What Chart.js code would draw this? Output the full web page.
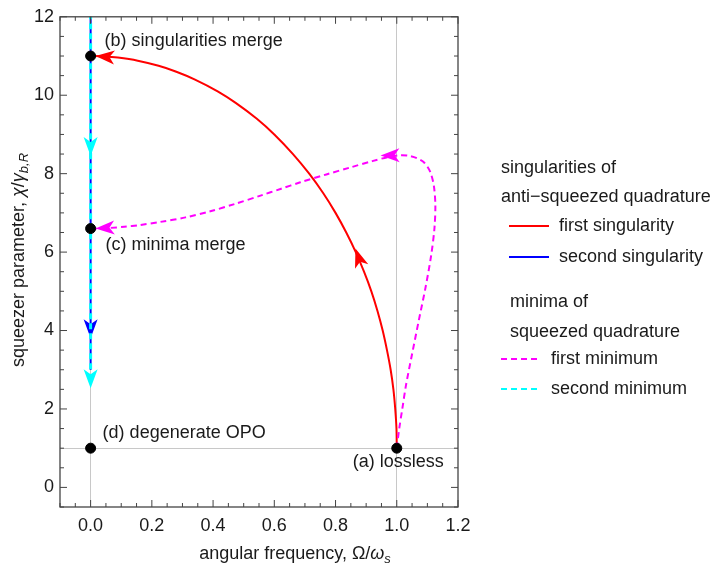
<!DOCTYPE html>
<html>
<head>
<meta charset="utf-8">
<title>Singularities and minima vs squeezer parameter</title>
<script src="https://cdn.jsdelivr.net/npm/chart.js@4.4.0/dist/chart.umd.min.js"></script>
<style>
  html, body { margin: 0; padding: 0; background: #fff; }
</style>
</head>
<body>
<canvas id="chart" width="720" height="564"></canvas>
<script>
// ==============================
// Data (x = Omega/omega_s, y = chi/gamma_b,R)
// ==============================
const redX = [1.000, 0.999, 0.995, 0.989, 0.980, 0.968, 0.954, 0.937, 0.917, 0.893, 0.866, 0.835, 0.800, 0.760, 0.714, 0.661, 0.600, 0.543, 0.475, 0.415, 0.341, 0.280, 0.222, 0.154, 0.089, 0.045, 0.000];
const redY = [1.0, 1.5, 2.0, 2.5, 3.0, 3.5, 4.0, 4.5, 5.0, 5.5, 6.0, 6.5, 7.0, 7.5, 8.0, 8.5, 9.0, 9.4, 9.8, 10.1, 10.4, 10.6, 10.75, 10.88, 10.96, 10.99, 11.0];

const blueX = [0, 0];
const blueY = [12.6, 3.0];

const magentaX = [1.000, 1.008, 1.018, 1.030, 1.050, 1.072, 1.094, 1.112, 1.123, 1.126, 1.121, 1.109, 1.090, 1.067, 1.040, 1.012, 0.975, 0.920, 0.849, 0.770, 0.685, 0.620, 0.555, 0.470, 0.391, 0.310, 0.228, 0.160, 0.110, 0.060, 0.000];
const magentaY = [1.0, 1.5, 2.0, 2.6, 3.4, 4.26, 5.1, 5.9, 6.6, 7.2, 7.7, 8.05, 8.28, 8.39, 8.455, 8.47, 8.43, 8.32, 8.16, 7.98, 7.78, 7.61, 7.44, 7.225, 7.04, 6.885, 6.77, 6.69, 6.645, 6.615, 6.60];

const cyanX = [0, 0];
const cyanY = [12.6, 3.0];

// special points (a) lossless, (b) singularities merge, (c) minima merge, (d) degenerate OPO
const pointX = [1, 0, 0, 0];
const pointY = [1, 11, 6.6, 1];
const pointLabels = ["(a) lossless", "(b) singularities merge", "(c) minima merge", "(d) degenerate OPO"];

// arrow heads: [tipX, tipY, tailX, tailY] in data units
const redArrows = [[0.865, 6.09, 0.90, 5.30], [0.016, 11.0, 0.10, 10.95]];
const blueArrows = [[0, 3.8, 0, 4.8]];
const magentaArrows = [[0.947, 8.46, 1.00, 8.47], [0.016, 6.60, 0.10, 6.64]];
const cyanArrows = [[0, 8.45, 0, 9.5], [0, 2.53, 0, 3.5]];

// ==============================
// Helpers
// ==============================
const FONT = '"Liberation Sans", Arial, Helvetica, sans-serif';
const TEXT_COLOR = "#1a1a1a";

function toPoints(xs, ys) {
  return xs.map((x, i) => ({ x: x, y: ys[i] }));
}

function isMultiple(v, step) {
  const r = v / step;
  return Math.abs(r - Math.round(r)) < 1e-6;
}

// draw text made of pieces with different fonts (for italic greek / subscripts)
function drawRich(ctx, pieces, x, y, align) {
  let total = 0;
  pieces.forEach((p) => {
    ctx.font = p.font;
    total += ctx.measureText(p.text).width;
  });
  let cx = align === "center" ? x - total / 2 : x;
  ctx.textAlign = "left";
  ctx.textBaseline = "alphabetic";
  pieces.forEach((p) => {
    ctx.font = p.font;
    ctx.fillText(p.text, cx, y + (p.dy || 0));
    cx += ctx.measureText(p.text).width;
  });
}

function drawArrow(chart, arrow, color) {
  const ctx = chart.ctx;
  const xs = chart.scales.x, ys = chart.scales.y;
  const tx = xs.getPixelForValue(arrow[0]), ty = ys.getPixelForValue(arrow[1]);
  const bx = xs.getPixelForValue(arrow[2]), by = ys.getPixelForValue(arrow[3]);
  const ang = Math.atan2(ty - by, tx - bx);
  const len = 19, half = 7, notch = 5;
  ctx.save();
  ctx.translate(tx, ty);
  ctx.rotate(ang);
  ctx.beginPath();
  ctx.moveTo(0, 0);
  ctx.lineTo(-len, -half);
  ctx.lineTo(-len + notch, 0);
  ctx.lineTo(-len, half);
  ctx.closePath();
  ctx.fillStyle = color;
  ctx.fill();
  ctx.restore();
}

const arrowsByLabel = {
  "first singularity": [redArrows, "#ff0000"],
  "second singularity": [blueArrows, "#0000ff"],
  "first minimum": [magentaArrows, "#ff00ff"],
  "second minimum": [cyanArrows, "#00ffff"],
};

// ==============================
// Plugin: frame with inward ticks, arrows, labels, legend, axis titles
// ==============================
const figurePlugin = {
  id: "figure",
  afterDatasetDraw(chart, args) {
    const ds = chart.data.datasets[args.index];
    const entry = arrowsByLabel[ds.label];
    if (!entry) return;
    entry[0].forEach((a) => drawArrow(chart, a, entry[1]));
  },
  afterDraw(chart) {
    const ctx = chart.ctx;
    const area = chart.chartArea;
    const xs = chart.scales.x, ys = chart.scales.y;

    // frame
    ctx.save();
    ctx.strokeStyle = "#444";
    ctx.lineWidth = 1.3;
    ctx.strokeRect(area.left, area.top, area.right - area.left, area.bottom - area.top);

    // inward ticks on all four sides
    ctx.lineWidth = 1;
    ctx.beginPath();
    xs.ticks.forEach((t) => {
      const px = xs.getPixelForValue(t.value);
      const len = t.label !== "" ? 7 : 4;
      ctx.moveTo(px, area.bottom);
      ctx.lineTo(px, area.bottom - len);
      ctx.moveTo(px, area.top);
      ctx.lineTo(px, area.top + len);
    });
    ys.ticks.forEach((t) => {
      const py = ys.getPixelForValue(t.value);
      const len = t.label !== "" ? 7 : 4;
      ctx.moveTo(area.left, py);
      ctx.lineTo(area.left + len, py);
      ctx.moveTo(area.right, py);
      ctx.lineTo(area.right - len, py);
    });
    ctx.stroke();
    ctx.restore();

    // point annotations
    const offsets = [[47, 14, "right"], [14, -15, "left"], [15, 16, "left"], [12, -15, "left"]];
    ctx.save();
    ctx.fillStyle = TEXT_COLOR;
    ctx.font = "18px " + FONT;
    ctx.textBaseline = "middle";
    pointLabels.forEach((label, i) => {
      const px = xs.getPixelForValue(pointX[i]);
      const py = ys.getPixelForValue(pointY[i]);
      ctx.textAlign = offsets[i][2];
      ctx.fillText(label, px + offsets[i][0], py + offsets[i][1]);
    });

    // legend
    ctx.textAlign = "left";
    ctx.fillText("singularities of", 501, 168);
    ctx.fillText("anti\u2212squeezed quadrature", 501, 197);
    ctx.fillText("first singularity", 559, 226);
    ctx.fillText("second singularity", 559, 257);
    ctx.fillText("minima of", 510, 302);
    ctx.fillText("squeezed quadrature", 510, 332);
    ctx.fillText("first minimum", 551, 359);
    ctx.fillText("second minimum", 551, 389);

    const swatch = (x1, x2, y, color, dash) => {
      ctx.beginPath();
      ctx.setLineDash(dash);
      ctx.strokeStyle = color;
      ctx.lineWidth = 2;
      ctx.moveTo(x1, y);
      ctx.lineTo(x2, y);
      ctx.stroke();
    };
    swatch(509, 549, 226, "#ff0000", []);
    swatch(509, 549, 257, "#0000ff", []);
    swatch(501, 541, 359, "#ff00ff", [6, 4]);
    swatch(501, 541, 389, "#00ffff", [6, 4]);
    ctx.setLineDash([]);

    // axis titles
    const reg = "18px " + FONT;
    const ital = "italic 18px " + FONT;
    const sub = "italic 13px " + FONT;
    drawRich(ctx, [
      { text: "angular frequency, \u03A9/", font: reg },
      { text: "\u03C9", font: ital },
      { text: "s", font: sub, dy: 4 },
    ], 295, 559, "center");

    ctx.translate(24, 260);
    ctx.rotate(-Math.PI / 2);
    drawRich(ctx, [
      { text: "squeezer parameter, ", font: reg },
      { text: "\u03C7", font: ital },
      { text: "/", font: reg },
      { text: "\u03B3", font: ital },
      { text: "b,R", font: sub, dy: 4 },
    ], 0, 0, "center");
    ctx.restore();
  },
};

// ==============================
// Chart
// ==============================
const gridGray = "#c8c8c8";

const chart = new Chart(document.getElementById("chart").getContext("2d"), {
  type: "scatter",
  data: {
    datasets: [
      {
        label: "points",
        data: toPoints(pointX, pointY),
        showLine: false,
        pointRadius: 5,
        pointBackgroundColor: "#000",
        pointBorderColor: "#000",
        order: 0,
      },
      {
        label: "second minimum",
        data: toPoints(cyanX, cyanY),
        showLine: true,
        borderColor: "#00ffff",
        borderWidth: 3,
        borderDash: [6, 4],
        pointRadius: 0,
        order: 1,
      },
      {
        label: "second singularity",
        data: toPoints(blueX, blueY),
        showLine: true,
        borderColor: "#0000ff",
        borderWidth: 2,
        pointRadius: 0,
        order: 2,
      },
      {
        label: "first minimum",
        data: toPoints(magentaX, magentaY),
        showLine: true,
        borderColor: "#ff00ff",
        borderWidth: 2,
        borderDash: [6, 4],
        pointRadius: 0,
        tension: 0.3,
        order: 3,
      },
      {
        label: "first singularity",
        data: toPoints(redX, redY),
        showLine: true,
        borderColor: "#ff0000",
        borderWidth: 2,
        pointRadius: 0,
        tension: 0.3,
        order: 4,
      },
    ],
  },
  options: {
    responsive: false,
    animation: false,
    layout: { padding: { left: 0, right: 262, top: 16, bottom: 0 } },
    plugins: { legend: { display: false }, tooltip: { enabled: false } },
    scales: {
      x: {
        type: "linear",
        min: -0.1,
        max: 1.2,
        border: { display: false },
        grid: {
          drawTicks: false,
          color: (c) => (c.tick && (Math.abs(c.tick.value) < 1e-9 || Math.abs(c.tick.value - 1) < 1e-9) ? gridGray : "rgba(0,0,0,0)"),
        },
        ticks: {
          stepSize: 0.05,
          autoSkip: false,
          maxRotation: 0,
          padding: 8,
          color: TEXT_COLOR,
          font: { family: FONT, size: 18 },
          callback: (v) => (v > -1e-9 && isMultiple(v, 0.2) ? v.toFixed(1) : ""),
        },
        afterFit: (s) => { s.height = 57; },
      },
      y: {
        type: "linear",
        min: -0.5,
        max: 12,
        border: { display: false },
        grid: {
          drawTicks: false,
          color: (c) => (c.tick && Math.abs(c.tick.value - 1) < 1e-9 ? gridGray : "rgba(0,0,0,0)"),
        },
        ticks: {
          stepSize: 0.5,
          autoSkip: false,
          padding: 6,
          color: TEXT_COLOR,
          font: { family: FONT, size: 18 },
          callback: (v) => (isMultiple(v, 2) ? String(Math.round(v)) : ""),
        },
        afterFit: (s) => { s.width = 60; },
      },
    },
  },
  plugins: [figurePlugin],
});
</script>
</body>
</html>
